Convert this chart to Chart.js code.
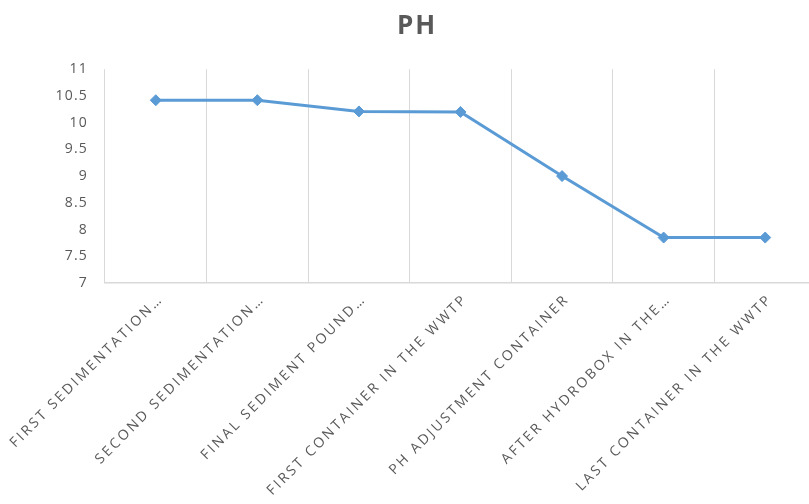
<!DOCTYPE html>
<html>
<head>
<meta charset="utf-8">
<title>PH</title>
<script src="https://cdn.jsdelivr.net/npm/chart.js@4/dist/chart.umd.min.js"></script>
<style>
  html, body { margin: 0; padding: 0; background: #ffffff; overflow: hidden; }
  #frame { width: 809px; height: 504px; overflow: hidden; position: relative; }
  #wrap { width: 834px; height: 504px; position: absolute; left: 0; top: 0; }
</style>
</head>
<body>
<div id="frame"><div id="wrap"><canvas id="chart"></canvas></div></div>
<script>
// Sampling points along the treatment line
const categories = [
  'FIRST SEDIMENTATION…',
  'SECOND SEDIMENTATION…',
  'FINAL SEDIMENT POUND…',
  'FIRST CONTAINER IN THE WWTP',
  'PH ADJUSTMENT CONTAINER',
  'AFTER HYDROBOX IN THE…',
  'LAST CONTAINER IN THE WWTP'
];

// Measured pH at each point
const phValues = [10.42, 10.42, 10.21, 10.2, 9.0, 7.85, 7.85];

// Value axis range
const yMin = 7;
const yMax = 11;
const yStep = 0.5;

const textGrey = '#595959';
const gridGrey = '#D9D9D9';
const lineBlue = '#5B9BD5';
const fontFamily = "'Open Sans', 'Noto Sans', sans-serif";

// Spaced-out lettering: one spacing for the title, another per axis
const spacing = { title: '2px', x: '2.5px', y: '1.2px' };

const letterSpacingPlugin = {
  id: 'letterSpacing',
  beforeDraw(chart) {
    chart.ctx.letterSpacing = spacing.title;
    ['x', 'y'].forEach((id) => {
      const scale = chart.scales[id];
      if (!scale || scale._spacedLabels) return;
      const original = scale.drawLabels.bind(scale);
      scale.drawLabels = (area) => {
        const ctx = scale.ctx;
        const prev = ctx.letterSpacing;
        ctx.letterSpacing = spacing[id];
        original(area);
        ctx.letterSpacing = prev;
      };
      scale._spacedLabels = true;
    });
  }
};

new Chart(document.getElementById('chart'), {
  type: 'line',
  data: {
    labels: categories,
    datasets: [{
      label: 'PH',
      data: phValues,
      borderColor: lineBlue,
      backgroundColor: lineBlue,
      borderWidth: 3,
      tension: 0,
      pointStyle: 'rectRot',
      pointRadius: 5.5,
      pointBorderWidth: 1,
      pointBackgroundColor: lineBlue,
      pointBorderColor: lineBlue,
      fill: false
    }]
  },
  options: {
    responsive: true,
    maintainAspectRatio: false,
    animation: false,
    layout: { padding: { left: 18, right: 18, top: 0, bottom: 0 } },
    plugins: {
      legend: { display: false },
      tooltip: { enabled: false },
      title: {
        display: true,
        text: 'PH',
        color: textGrey,
        font: { family: fontFamily, size: 26, weight: 'bold', lineHeight: 1.2 },
        padding: { top: 11, bottom: 27 }
      }
    },
    scales: {
      x: {
        offset: true,
        grid: { offset: true, color: gridGrey, lineWidth: 1, drawTicks: false },
        border: { display: true, color: gridGrey, width: 1.5 },
        ticks: {
          autoSkip: false,
          minRotation: 45,
          maxRotation: 45,
          padding: 8,
          labelOffset: 5,
          color: textGrey,
          font: { family: fontFamily, size: 14 }
        },
        afterFit(scale) { scale.height = 221; }
      },
      y: {
        min: yMin,
        max: yMax,
        grid: { display: false, drawTicks: false },
        border: { display: false },
        ticks: {
          stepSize: yStep,
          padding: 17,
          color: textGrey,
          font: { family: fontFamily, size: 14 },
          callback: (value) => String(Math.round(value * 10) / 10)
        },
        afterFit(scale) { scale.width = 87; }
      }
    }
  },
  plugins: [letterSpacingPlugin]
});
</script>
</body>
</html>
